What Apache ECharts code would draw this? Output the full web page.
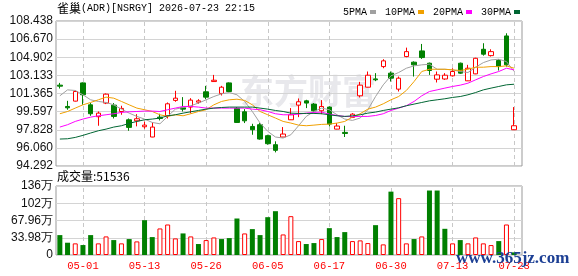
<!DOCTYPE html>
<html><head><meta charset="utf-8">
<script src="https://cdn.jsdelivr.net/npm/echarts@6/dist/echarts.min.js"></script>
<style>html,body{margin:0;padding:0;background:#fff}#c{width:578px;height:276px}</style>
</head><body><div id="c"></div>
<script>
const dates = ['04-28','04-29','04-30','05-01','05-04','05-05','05-06','05-07','05-08','05-11',
 '05-12','05-13','05-14','05-15','05-18','05-19','05-20','05-21','05-22','05-26',
 '05-27','05-28','05-29','06-01','06-02','06-03','06-04','06-05','06-08','06-09',
 '06-10','06-11','06-12','06-15','06-16','06-17','06-18','06-22','06-23','06-24',
 '06-25','06-26','06-29','06-30','07-01','07-02','07-06','07-07','07-08','07-09',
 '07-10','07-13','07-14','07-15','07-16','07-17','07-20','07-21','07-22','07-23'];
const opens = [102.18,100.10,100.62,102.40,100.26,99.10,100.43,100.23,99.61,98.80,
 98.70,98.12,97.12,99.06,99.19,100.69,99.97,100.04,100.52,101.53,
 102.53,101.37,102.40,99.91,99.58,98.15,98.32,97.25,96.37,97.12,
 98.80,100.23,100.65,100.33,99.68,100.04,97.89,97.57,99.03,101.14,
 101.98,102.79,103.99,103.35,101.79,104.97,104.42,105.52,104.32,102.76,
 102.78,103.09,104.32,102.60,103.28,105.68,105.06,104.58,106.98,97.83];
const closes = [102.08,99.97,101.56,101.24,99.39,99.45,101.30,99.13,99.91,98.06,
 98.90,98.28,98.09,98.93,100.36,100.91,99.84,100.72,100.65,101.01,
 102.66,101.98,101.56,98.54,98.70,97.83,96.92,96.47,95.82,97.41,
 99.29,100.56,100.43,99.68,100.10,98.38,98.19,97.47,99.35,102.18,
 103.15,102.70,104.55,102.86,102.86,105.45,104.16,104.87,103.61,103.18,
 103.15,103.51,103.35,103.83,104.80,105.20,105.45,103.99,104.16,98.22];
const lows = [101.85,99.78,100.59,100.26,99.19,98.22,100.33,98.93,99.29,97.73,
 98.16,97.93,97.10,98.74,98.93,100.56,99.61,99.42,100.36,100.81,
 102.50,101.17,101.50,98.50,98.48,97.34,96.86,96.37,95.62,97.10,
 98.78,99.06,99.94,99.52,99.35,98.15,97.87,97.12,98.97,100.98,
 101.96,102.57,103.83,102.53,101.56,104.90,103.02,104.74,103.18,102.44,
 102.70,103.02,103.28,102.58,103.25,105.06,104.97,103.61,103.99,97.80];
const highs = [102.40,100.65,101.66,102.45,100.43,99.61,101.37,100.43,100.17,98.93,
 99.35,98.61,98.54,99.39,100.49,101.63,101.01,100.91,100.81,102.11,
 103.18,102.11,102.45,100.04,99.84,98.41,98.48,97.34,96.70,98.09,
 99.94,100.88,100.75,100.43,100.72,100.10,98.48,98.22,99.45,102.50,
 103.51,103.35,104.71,103.51,103.02,105.84,104.50,106.20,104.38,103.51,
 103.35,103.83,104.38,104.16,104.85,106.27,105.68,104.71,107.24,100.04];
const volumes = [392000,242000,229000,196000,392000,229000,366000,294000,229000,314000,
 268000,686000,353000,523000,601000,327000,425000,366000,216000,294000,
 346000,314000,333000,719000,425000,510000,392000,745000,863000,405000,
 765000,274000,216000,235000,314000,529000,353000,451000,274000,288000,
 235000,588000,209000,1248000,1120000,229000,314000,366000,1270000,1270000,
 516000,229000,294000,229000,346000,229000,196000,274000,601000,51536];
const volUp = [0,0,1,0,0,1,1,0,1,0, 1,0,0,1,1,1,0,1,0,1, 1,0,0,0,1,0,0,0,0,1,
 1,1,0,0,1,0,0,0,1,1, 1,0,1,0,1,1,0,1,0,0, 0,1,0,1,1,1,1,0,1,0];
const ma5 = [101.14,101.72,101.66,101.24,100.75,100.59,100.49,100.26,99.84,99.45,
 99.13,98.87,98.54,98.41,99.13,99.84,100.00,100.17,100.43,100.75,
 101.07,101.33,101.46,101.24,100.59,99.61,98.48,97.67,97.12,97.02,
 97.34,98.22,99.13,99.61,99.94,99.78,99.29,98.87,98.74,98.97,
 99.78,101.07,102.21,103.09,103.41,103.83,104.06,104.16,104.22,103.73,
 103.73,103.67,103.51,103.41,103.93,104.38,104.64,104.71,104.48,103.51];
const ma10 = [99.39,99.61,99.94,100.26,100.49,100.75,101.01,100.91,100.59,100.26,
 99.94,99.78,99.61,99.29,99.13,99.29,99.19,99.39,99.61,99.78,
 100.26,100.59,100.75,100.81,100.69,100.26,99.61,99.29,98.97,98.64,
 98.48,98.28,98.22,98.28,98.35,98.38,98.48,98.64,99.06,99.39,
 99.84,100.04,100.36,100.75,101.07,101.66,102.53,103.51,103.73,103.73,
 103.73,103.67,103.61,103.73,103.93,103.93,103.99,103.99,104.06,103.83];
const ma20 = [98.09,98.32,98.64,98.87,99.06,99.19,99.29,99.39,99.52,99.58,
 99.61,99.65,99.65,99.61,99.78,99.94,100.10,100.10,100.04,99.94,
 99.94,99.94,99.94,99.94,99.94,99.84,99.78,99.61,99.39,99.29,
 99.29,99.35,99.45,99.52,99.55,99.35,99.22,99.13,99.10,99.13,
 99.13,99.22,99.39,99.71,99.94,100.17,100.59,101.14,101.56,101.72,
 101.89,102.05,102.18,102.37,102.70,103.02,103.28,103.51,103.83,103.67];
const ma30 = [96.92,96.95,97.08,97.28,97.51,97.73,97.89,98.09,98.22,98.45,
 98.64,98.80,98.87,98.97,99.19,99.29,99.45,99.58,99.71,99.84,
 99.94,100.00,100.04,100.04,100.04,100.04,99.94,99.84,99.71,99.61,
 99.45,99.42,99.42,99.42,99.39,99.29,99.19,99.13,99.19,99.29,
 99.45,99.55,99.71,99.84,99.97,100.17,100.33,100.49,100.65,100.75,
 100.85,100.98,101.07,101.24,101.46,101.72,101.89,102.05,102.21,102.27];
const priceTicks = ['94.292','96.060','97.828','99.597','101.365','103.133','104.902','106.670','108.438'];
const volTicks = ['0','33.98万','67.96万','102万','136万'];
const labelDates = ['05-01','05-13','05-26','06-05','06-17','06-30','07-13','07-23'];
const priceMin = 94.292, priceMax = 108.438, volMax = 1359200;
const lastVolume = 51536;

const RED = '#ff0000', GREEN = '#008000';
const chart = echarts.init(document.getElementById('c'), null, {renderer: 'canvas'});
const vlines = labelDates.map(d => ({xAxis: d}));
const markLineCfg = {silent: true, symbol: 'none', z: 1, label: {show: false},
  lineStyle: {color: '#c8c8c8', type: [4, 3], width: 1}, data: vlines, animation: false};
const axisFont = {fontFamily: 'Liberation Sans', fontSize: 12, color: '#111'};

chart.setOption({
  animation: false,
  grid: [
    {left: 56, top: 21, width: 466, height: 145, show: true, borderColor: '#999', borderWidth: 1},
    {left: 56, top: 21, width: 462, height: 145},
    {left: 56, top: 186, width: 466, height: 69, show: true, borderColor: '#999', borderWidth: 1},
    {left: 56, top: 186, width: 462, height: 69}
  ],
  xAxis: [
    {gridIndex: 0, type: 'value', min: 0, max: 1, show: false},
    {gridIndex: 1, type: 'category', data: dates, boundaryGap: true, axisLine: {show: false}, axisTick: {show: false}, axisLabel: {show: false}, splitLine: {show: false}},
    {gridIndex: 2, type: 'value', min: 0, max: 1, show: false},
    {gridIndex: 3, type: 'category', data: dates, boundaryGap: true, axisLine: {show: false}, axisTick: {show: false}, splitLine: {show: false},
      axisLabel: {show: true, interval: (i, v) => labelDates.indexOf(v) >= 0, color: RED, fontFamily: 'Liberation Mono', fontSize: 10.5, margin: 6}}
  ],
  yAxis: [
    {gridIndex: 0, type: 'value', min: 0, max: 8, interval: 1, axisLine: {show: false}, axisTick: {show: false},
      splitLine: {lineStyle: {color: '#d4d4d4'}}, axisLabel: Object.assign({margin: 3, formatter: v => priceTicks[Math.round(v)]}, axisFont)},
    {gridIndex: 1, type: 'value', min: priceMin, max: priceMax, show: false, splitLine: {show: false}},
    {gridIndex: 2, type: 'value', min: 0, max: 4, interval: 1, axisLine: {show: false}, axisTick: {show: false},
      splitLine: {lineStyle: {color: '#d4d4d4'}}, axisLabel: Object.assign({margin: 3, formatter: v => volTicks[Math.round(v)]}, axisFont)},
    {gridIndex: 3, type: 'value', min: 0, max: volMax, show: false, splitLine: {show: false}}
  ],
  legend: {
    left: 338, top: 2, icon: 'rect', itemWidth: 6, itemHeight: 4, itemGap: 9, align: 'right',
    textStyle: {fontFamily: 'Liberation Mono', fontSize: 10, color: '#000', padding: [0, -2, 0, 0]},
    data: ['5PMA', '10PMA', '20PMA', '30PMA']
  },
  series: [
    {type: 'line', xAxisIndex: 1, yAxisIndex: 1, data: [], z: 1, markLine: markLineCfg},
    {type: 'line', xAxisIndex: 3, yAxisIndex: 3, data: [], z: 1, markLine: markLineCfg},
    {type: 'candlestick', xAxisIndex: 1, yAxisIndex: 1, barWidth: 5, z: 4,
      data: dates.map((d, i) => [opens[i], closes[i], lows[i], highs[i]]),
      itemStyle: {color: '#fff', color0: GREEN, borderColor: RED, borderColor0: GREEN, borderWidth: 1}},
    {name: '5PMA', type: 'line', xAxisIndex: 1, yAxisIndex: 1, data: ma5, showSymbol: false, symbol: 'none', z: 6,
      lineStyle: {color: '#a0a0a0', width: 1}, itemStyle: {color: '#a0a0a0'}},
    {name: '10PMA', type: 'line', xAxisIndex: 1, yAxisIndex: 1, data: ma10, showSymbol: false, symbol: 'none', z: 6,
      lineStyle: {color: '#f0a000', width: 1}, itemStyle: {color: '#f0a000'}},
    {name: '20PMA', type: 'line', xAxisIndex: 1, yAxisIndex: 1, data: ma20, showSymbol: false, symbol: 'none', z: 6,
      lineStyle: {color: '#ff00ff', width: 1}, itemStyle: {color: '#ff00ff'}},
    {name: '30PMA', type: 'line', xAxisIndex: 1, yAxisIndex: 1, data: ma30, showSymbol: false, symbol: 'none', z: 6,
      lineStyle: {color: '#006633', width: 1}, itemStyle: {color: '#006633'}},
    {type: 'bar', xAxisIndex: 3, yAxisIndex: 3, barWidth: 5, z: 4,
      data: volumes.map((v, i) => ({value: v, itemStyle: volUp[i] ? {color: '#fff', borderColor: RED, borderWidth: 1} : {color: GREEN}}))}
  ],
  graphic: [
    {type: 'text', left: 240, top: 74, z: -1, silent: true,
      style: {text: '东方财富', font: 'bold 34px "Noto Sans CJK SC"', fill: '#e8e8ec'}},
    {type: 'text', left: 57, top: 2, silent: true,
      style: {text: '{a|雀巢}{b|(ADR)[NSRGY] 2026-07-23 22:15}',
        rich: {a: {fontFamily: 'Noto Sans CJK SC', fontSize: 12, fill: '#000'}, b: {fontFamily: 'Liberation Mono', fontSize: 10, fill: '#000'}}}},
    {type: 'text', left: 57, top: 170, silent: true,
      style: {text: '成交量:' + lastVolume, font: '12px "Noto Sans CJK SC"', fill: '#000'}},
    {type: 'text', left: 456, top: 250, z: 100, silent: true,
      style: {text: 'www.365jz.com', font: 'bold 17px "Liberation Serif"', fill: '#1c3f94'}}
  ]
});
</script></body></html>
